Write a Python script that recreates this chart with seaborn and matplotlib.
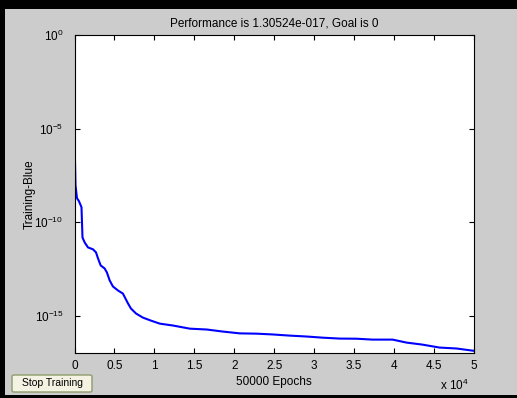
import numpy as np
import pandas as pd
import matplotlib
matplotlib.use("Agg")
import matplotlib.pyplot as plt
import seaborn as sns
from matplotlib.patches import Rectangle, FancyBboxPatch

# ---- data ----
epochs = [0, 10, 125, 310, 560, 875, 1000, 1275, 1690, 2310, 2690, 2940, 3275,
          3775, 4060, 4400, 4810, 5440, 6060, 6310, 6690, 7060, 7690, 8560,
          9560, 10690, 12310, 14440, 16560, 18560, 20690, 22810, 24810, 26940,
          29060, 31060, 33190, 35310, 37310, 39810, 41560, 43560, 45690, 47810,
          50000]
performance = [3.7e-1, 2.4e-6, 9.3e-9, 1.9e-9, 1.3e-9, 6.2e-10, 1.5e-11, 8.1e-12,
               4.4e-12, 3.5e-12, 2.4e-12, 1.15e-12, 4.8e-13, 3.3e-13, 2.0e-13,
               7.6e-14, 3.6e-14, 2.2e-14, 1.5e-14, 9.3e-15, 4.5e-15, 2.4e-15,
               1.3e-15, 7.8e-16, 5.4e-16, 3.7e-16, 2.95e-16, 2.0e-16, 1.8e-16,
               1.4e-16, 1.12e-16, 1.08e-16, 9.8e-17, 8.5e-17, 7.6e-17, 6.6e-17,
               5.9e-17, 5.8e-17, 5.2e-17, 5.2e-17, 3.6e-17, 2.8e-17, 1.95e-17,
               1.74e-17, 1.30524e-17]
xtick_values = [0, 5000, 10000, 15000, 20000, 25000, 30000, 35000, 40000, 45000, 50000]
xtick_labels = ["0", "0.5", "1", "1.5", "2", "2.5", "3", "3.5", "4", "4.5", "5"]
ytick_values = [1e0, 1e-5, 1e-10, 1e-15]
ytick_labels = [r"$10^{0}$", r"$10^{-5}$", r"$10^{-10}$", r"$10^{-15}$"]
title_text = "Performance is 1.30524e-017, Goal is 0"
xlabel_text = "50000 Epochs"
ylabel_text = "Training-Blue"
button_text = "Stop Training"

plt.rcParams["font.family"] = ["Liberation Sans", "DejaVu Sans"]
plt.rcParams["mathtext.fontset"] = "custom"
plt.rcParams["mathtext.rm"] = "Liberation Sans"
plt.rcParams["mathtext.it"] = "Liberation Sans"

W, H = 517, 398
fig = plt.figure(figsize=(W / 100, H / 100), dpi=100)
fig.patch.set_facecolor("#cccccc")

# black window border (top, left, bottom)
fig.patches.append(Rectangle((0, 1 - 9 / H), 1, 9 / H, transform=fig.transFigure,
                             facecolor="black", edgecolor="none", zorder=0))
fig.patches.append(Rectangle((0, 0), 5 / W, 1, transform=fig.transFigure,
                             facecolor="black", edgecolor="none", zorder=0))
fig.patches.append(Rectangle((0, 0), 1, 3 / H, transform=fig.transFigure,
                             facecolor="black", edgecolor="none", zorder=0))

ax_l, ax_r, ax_t, ax_b = 74.5, 474, 35, 353
ax_w = ax_r - ax_l
ax = fig.add_axes([ax_l / W, 1 - ax_b / H, ax_w / W, (ax_b - ax_t) / H])
ax.set_facecolor("white")

df = pd.DataFrame({"epoch": epochs, "perf": performance})
sns.lineplot(data=df, x="epoch", y="perf", ax=ax, color="#0000ff", linewidth=1.5,
             estimator=None, sort=False)
ax.set_yscale("log")
ax.set_xlim(0, 50000)
ax.set_ylim(1e-17, 1e0)

ax.set_xticks(xtick_values)
ax.set_xticklabels(xtick_labels)
ax.set_yticks(ytick_values)
ax.set_yticklabels(ytick_labels)
ax.yaxis.set_minor_locator(matplotlib.ticker.NullLocator())
ax.xaxis.set_minor_locator(matplotlib.ticker.NullLocator())
ax.tick_params(direction="in", length=3.5, width=0.8, top=True, right=True,
               labelsize=8.5, colors="black", pad=5)
ax.tick_params(axis="y", pad=8)
for s in ax.spines.values():
    s.set_linewidth(0.8)
    s.set_color("black")

ax.set_xlabel(xlabel_text, fontsize=8.5, labelpad=3)
ax.set_ylabel(ylabel_text, fontsize=8.5)
ax.yaxis.set_label_coords((36 - ax_l) / ax_w, 0.5)
ax.set_title(title_text, fontsize=8.5, pad=6)

fig.text(469 / W, 1 - 385 / H, r"x $10^{4}$", fontsize=8.5, ha="right", va="center")

# Stop Training button
btn = FancyBboxPatch((12 / W, 1 - 392 / H), 80 / W, 17 / H,
                     boxstyle="round,pad=0,rounding_size=0.004",
                     transform=fig.transFigure, facecolor="#f4f2e2",
                     edgecolor="#8c9c6c", linewidth=1.0)
fig.patches.append(btn)
fig.text(52 / W, 1 - 383.5 / H, button_text, fontsize=7.5, ha="center", va="center")

fig.savefig("out.png", dpi=100, facecolor=fig.get_facecolor())
